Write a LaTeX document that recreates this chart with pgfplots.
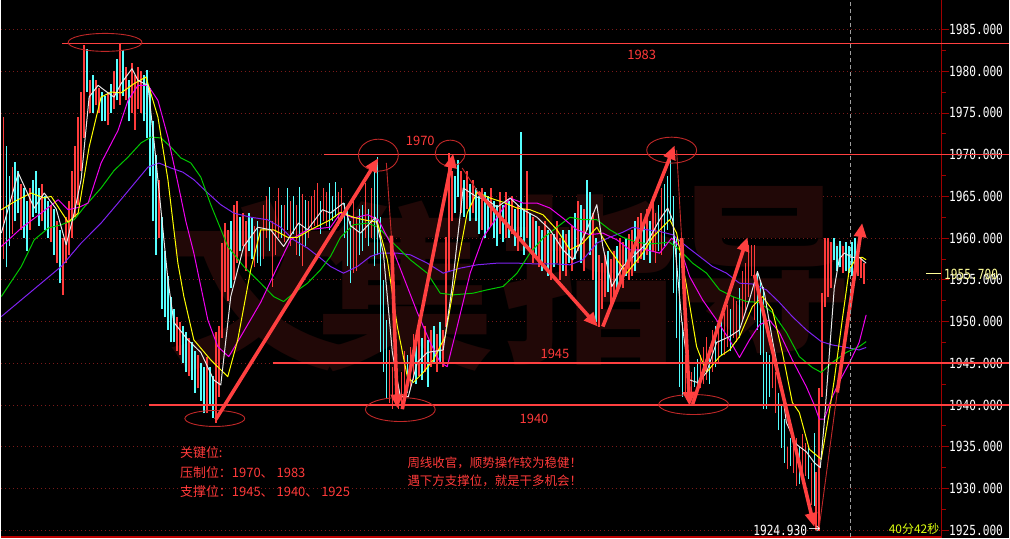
\documentclass[border=0pt]{standalone}
\usepackage{pgfplots}
\usepackage{pgfplotstable}
\pgfplotsset{compat=1.18}
\usetikzlibrary{arrows.meta}
\usepackage{fontspec}
\newfontfamily\cjk{Noto Sans CJK SC}
\newfontfamily\tickfam[FakeStretch=0.8]{DejaVu Sans Mono}
\newcommand\tickfont{\tickfam\fontsize{14}{14}\selectfont}

\definecolor{candlered}{HTML}{FF3B3B}
\definecolor{candlecyan}{HTML}{55FFFF}
\definecolor{mawhite}{HTML}{E8E8E8}
\definecolor{mayellow}{HTML}{FFFF00}
\definecolor{mamagenta}{HTML}{F000F0}
\definecolor{magreen}{HTML}{00C800}
\definecolor{mapurple}{HTML}{7F22F0}
\definecolor{linered}{HTML}{FF4040}
\definecolor{ellred}{HTML}{C02828}
\definecolor{gridred}{HTML}{7A1A1A}
\definecolor{axisred}{HTML}{A00000}
\definecolor{wm}{HTML}{210807}
\definecolor{txtred}{HTML}{FF3A3A}
\definecolor{timeyellow}{HTML}{DDFF10}
\definecolor{priceyellow}{HTML}{FFFF99}

\pgfplotstableread{
x lo hi
2 1957.5 1974.5
11 1960.5 1968.5
20 1961.0 1966.5
29 1961.0 1966.0
41 1962.0 1966.5
50 1959.5 1964.0
56 1957.0 1962.0
62 1953.2 1960.0
65 1957.0 1962.5
68 1958.0 1964.5
71 1960.0 1968.0
74 1962.5 1971.0
77 1964.0 1974.5
80 1968.0 1977.5
83 1972.0 1983.1
89 1975.0 1979.0
95 1976.0 1979.0
98 1975.0 1978.0
107 1973.5 1977.5
113 1975.5 1980.0
119 1976.0 1983.3
125 1976.5 1980.5
131 1975.0 1981.0
134 1973.0 1979.5
137 1975.5 1980.5
140 1975.0 1980.0
158 1960.0 1967.0
176 1946.5 1950.5
179 1946.0 1950.0
188 1943.5 1948.0
197 1942.0 1946.0
206 1939.0 1945.8
215 1937.9 1948.7
218 1941.0 1949.5
221 1948.0 1959.4
224 1953.5 1961.8
227 1952.5 1961.0
233 1955.0 1964.0
236 1957.0 1964.5
242 1959.0 1963.0
245 1956.0 1962.0
254 1956.5 1961.5
263 1957.5 1964.0
266 1960.0 1965.0
272 1954.2 1962.0
275 1958.0 1964.5
278 1960.0 1966.0
284 1959.5 1964.0
290 1959.0 1964.5
296 1958.0 1964.0
302 1956.6 1965.3
308 1960.0 1964.5
311 1961.0 1965.0
314 1961.5 1965.8
317 1961.5 1966.6
323 1962.0 1966.0
326 1961.5 1965.5
338 1961.5 1965.5
341 1962.0 1966.0
353 1955.8 1964.6
356 1956.0 1962.5
365 1960.0 1966.6
371 1960.0 1966.0
389 1940.3 1946.6
392 1939.5 1944.6
398 1939.5 1942.5
401 1939.8 1944.0
404 1941.0 1946.5
410 1942.0 1947.0
413 1943.0 1948.5
419 1943.5 1949.0
425 1944.0 1949.5
431 1944.5 1949.0
437 1944.0 1948.5
443 1944.5 1949.0
446 1949.4 1960.1
449 1956.0 1970.2
452 1962.0 1968.0
461 1963.0 1968.0
467 1963.5 1968.0
473 1963.0 1967.0
482 1961.0 1966.0
491 1961.5 1966.0
500 1960.5 1965.5
506 1960.0 1965.5
512 1960.5 1965.0
518 1958.5 1964.0
527 1960.0 1968.0
533 1957.0 1962.5
539 1956.5 1961.5
545 1957.0 1962.0
551 1955.0 1960.5
557 1957.0 1962.0
560 1955.0 1960.0
566 1955.5 1960.5
572 1956.0 1961.5
578 1958.5 1964.5
584 1956.0 1963.5
593 1955.0 1963.0
599 1949.4 1958.0
602 1951.5 1957.0
605 1953.0 1958.0
611 1952.0 1957.5
614 1953.0 1958.5
620 1955.0 1960.0
623 1954.0 1959.5
629 1955.0 1960.5
632 1955.5 1961.0
638 1957.0 1962.5
641 1957.5 1963.0
647 1958.0 1963.5
653 1958.5 1964.5
656 1957.0 1963.0
662 1958.0 1966.0
686 1941.5 1946.0
692 1940.7 1944.0
701 1942.0 1946.0
704 1942.5 1947.0
707 1943.0 1948.2
713 1944.0 1949.0
719 1945.0 1950.0
725 1946.0 1951.0
728 1947.0 1952.0
734 1948.0 1953.0
737 1947.5 1952.5
743 1950.0 1956.0
746 1951.0 1957.0
749 1953.0 1959.2
752 1955.4 1959.2
755 1950.2 1959.2
773 1942.0 1946.5
776 1939.0 1944.0
788 1932.3 1935.0
794 1931.9 1935.5
797 1930.3 1936.0
803 1931.0 1936.5
806 1931.5 1935.5
812 1928.0 1933.0
817 1925.0 1932.0
820 1924.93 1942.0
823 1941.0 1953.4
826 1951.8 1960.0
829 1953.0 1960.0
832 1954.0 1959.5
844 1955.8 1959.0
859 1955.5 1959.0
862 1955.2 1957.7
865 1954.5 1957.0
}\redtab

\pgfplotstableread{
x lo hi
5 1956.5 1971.0
8 1959.0 1967.5
14 1962.0 1969.1
17 1963.0 1968.0
23 1960.0 1966.0
26 1958.5 1964.5
32 1962.5 1967.0
35 1963.0 1968.0
38 1961.5 1966.0
44 1961.0 1965.0
47 1960.0 1964.5
53 1958.0 1963.5
59 1954.6 1961.0
86 1977.5 1982.7
92 1975.0 1979.5
101 1974.0 1977.5
104 1974.0 1977.0
110 1975.0 1978.5
116 1976.5 1981.5
122 1977.0 1982.5
128 1974.0 1979.0
143 1974.0 1979.5
146 1972.0 1980.1
149 1967.5 1978.0
152 1962.0 1974.0
155 1958.0 1970.0
161 1951.5 1962.5
164 1950.5 1958.5
167 1949.0 1955.5
170 1947.5 1953.0
173 1947.5 1951.5
182 1945.0 1949.5
185 1944.0 1948.7
191 1943.0 1947.5
194 1941.5 1946.5
200 1940.5 1945.0
203 1939.0 1944.5
209 1940.0 1944.5
212 1938.5 1943.5
230 1954.0 1962.0
239 1958.5 1962.5
248 1958.5 1963.0
251 1957.5 1962.5
257 1957.0 1962.0
260 1956.6 1961.0
269 1958.5 1966.1
281 1960.0 1964.0
287 1961.0 1966.0
293 1960.5 1965.0
299 1957.8 1966.1
305 1959.0 1964.6
320 1960.5 1964.5
329 1961.0 1966.6
332 1962.0 1965.0
335 1962.5 1966.7
344 1960.0 1964.2
347 1956.6 1963.5
350 1954.6 1962.0
359 1958.0 1963.5
362 1958.5 1964.0
368 1959.0 1963.5
374 1956.6 1968.0
377 1958.0 1969.7
380 1946.3 1962.5
383 1944.0 1955.0
386 1940.7 1950.2
395 1940.0 1944.0
407 1941.5 1946.0
416 1942.5 1947.5
422 1943.0 1948.0
428 1942.2 1947.8
434 1945.0 1949.5
440 1945.0 1950.0
455 1963.0 1967.5
458 1964.9 1969.3
464 1962.5 1967.0
470 1962.0 1966.5
476 1962.0 1966.0
479 1960.5 1965.0
485 1960.0 1965.5
488 1961.0 1965.0
494 1960.0 1964.5
497 1959.0 1964.0
503 1959.5 1964.0
509 1960.0 1964.5
515 1959.0 1963.5
521 1960.1 1972.7
524 1958.0 1963.5
530 1958.5 1963.0
536 1957.5 1962.0
542 1956.0 1961.0
548 1955.5 1961.0
554 1956.5 1960.5
563 1956.0 1961.0
569 1957.0 1961.0
575 1957.5 1963.0
581 1957.0 1964.0
587 1961.0 1967.0
590 1958.0 1965.5
596 1950.0 1960.0
608 1953.5 1958.5
617 1954.0 1959.0
626 1955.5 1960.0
635 1956.0 1962.0
644 1957.4 1962.2
650 1957.0 1962.0
659 1958.5 1964.0
665 1959.0 1966.5
668 1961.0 1967.5
671 1962.2 1970.2
674 1953.4 1965.0
677 1948.0 1960.0
680 1942.2 1958.2
683 1941.0 1950.0
689 1940.7 1945.0
695 1942.2 1944.6
698 1941.5 1945.5
710 1942.5 1947.0
716 1944.5 1949.5
722 1946.0 1950.5
731 1946.5 1951.5
740 1948.0 1954.0
758 1949.0 1956.0
761 1946.0 1955.0
764 1939.5 1954.2
767 1939.5 1946.3
770 1941.0 1946.0
779 1937.0 1941.5
782 1934.9 1940.0
785 1933.1 1938.3
791 1932.7 1936.1
800 1930.5 1935.0
809 1931.1 1935.0
815 1927.9 1936.7
835 1957.4 1960.0
838 1956.0 1959.0
841 1956.5 1959.6
847 1956.0 1959.5
850 1955.8 1959.0
853 1955.5 1959.5
856 1956.5 1960.0
}\cyantab

\begin{document}
\begin{tikzpicture}[x=1pt,y=1pt]
\fill[black] (0,0) rectangle (1010,539);
\begin{axis}[
  at={(0pt,1pt)}, anchor=south west,
  scale only axis, width=943pt, height=538pt,
  xmin=0, xmax=943, ymin=1924.17, ymax=1988.47,
  clip=false,
  axis x line*=bottom, axis y line*=right,
  xtick=\empty,
  ytick={1925,1930,...,1985},
  minor y tick num=1,
  tick align=outside,
  major tick length=7pt, minor tick length=4pt,
  y axis line style={draw=axisred, line width=1pt},
  x axis line style={draw=axisred!70!red, line width=1.4pt},
  ytick style={draw=axisred, line width=0.8pt},
  ymajorgrids,
  grid style={gridred, line width=0.8pt, dash pattern=on 1pt off 3pt},
  /pgf/number format/assume math mode=true,
  yticklabel={\pgfmathprintnumber[fixed,fixed zerofill,precision=3,1000 sep={}]{\tick}},
  yticklabel style={font=\tickfont, text=white, inner sep=0pt},
]
% watermark
\node[text=wm, font=\cjk\bfseries\fontsize{180}{180}\selectfont] at (axis cs:258,1954.2) {文};
\node[text=wm, font=\cjk\bfseries\fontsize{180}{180}\selectfont] at (axis cs:405,1954.2) {集};
\node[text=wm, font=\cjk\bfseries\fontsize{180}{180}\selectfont] at (axis cs:590,1955.0) {指};
\node[text=wm, font=\cjk\bfseries\fontsize{180}{180}\selectfont] at (axis cs:765,1956.2) {导};

% candles (high-low lines)
\addplot[draw=none, mark=none, forget plot,
  error bars/.cd, y dir=plus, y explicit, error mark=none,
  error bar style={draw=candlered, line width=1.6pt}]
  table[x=x, y=lo, y error plus expr=\thisrow{hi}-\thisrow{lo}] {\redtab};
\addplot[draw=none, mark=none, forget plot,
  error bars/.cd, y dir=plus, y explicit, error mark=none,
  error bar style={draw=candlecyan, line width=1.6pt}]
  table[x=x, y=lo, y error plus expr=\thisrow{hi}-\thisrow{lo}] {\cyantab};

% moving averages
\addplot[mapurple, line width=1pt, line join=round] coordinates {
(0,1950.6) (20,1952.6) (40,1954.6) (60,1956.6) (80,1959.4) (100,1961.8) (117,1964.2) (133,1966.5) (147,1968.5) (158,1969.0) (170,1968.4) (182,1967.9) (193,1967.0) (207,1965.4) (220,1964.0) (233,1963.0) (250,1962.5) (267,1962.2) (280,1961.3) (293,1959.8) (307,1958.8) (320,1957.6) (330,1956.6) (343,1955.8) (357,1956.6) (370,1957.8) (380,1958.2) (397,1958.2) (410,1958.0) (427,1957.0) (443,1955.8) (460,1956.4) (477,1956.8) (497,1957.0) (517,1957.0) (537,1956.9) (557,1956.9) (570,1956.8) (583,1957.4) (597,1959.4) (610,1960.1) (623,1960.7) (633,1961.3) (647,1961.0) (660,1960.8) (673,1960.4) (687,1959.0) (700,1957.8) (713,1956.6) (727,1955.8) (740,1954.6) (753,1954.5) (767,1953.8) (780,1952.3) (793,1950.6) (807,1949.0) (822,1947.6) (833,1947.2) (847,1946.9) (860,1946.6) (867,1946.9)};
\addplot[magreen, line width=1pt, line join=round] coordinates {
(0,1953.0) (20,1956.6) (33,1959.8) (47,1961.2) (60,1961.6) (73,1962.2) (83,1963.7) (100,1966.0) (113,1968.1) (127,1969.7) (140,1971.4) (150,1972.1) (160,1972.0) (170,1970.9) (180,1969.6) (190,1969.0) (200,1967.3) (210,1964.0) (227,1959.0) (243,1956.6) (260,1954.6) (273,1953.0) (283,1952.4) (293,1953.4) (307,1954.6) (320,1956.2) (330,1957.8) (340,1960.1) (353,1961.6) (367,1961.8) (378,1961.3) (393,1959.4) (410,1957.4) (427,1955.8) (440,1953.4) (453,1953.2) (473,1953.4) (487,1953.8) (503,1954.2) (517,1955.8) (530,1958.2) (543,1960.0) (557,1961.3) (570,1962.5) (583,1962.2) (597,1962.2) (610,1961.0) (623,1960.1) (637,1959.5) (650,1959.3) (660,1959.4) (670,1959.5) (680,1958.6) (693,1957.0) (707,1955.8) (720,1953.8) (733,1953.0) (747,1952.4) (760,1952.3) (773,1951.1) (787,1948.7) (800,1945.8) (813,1944.5) (822,1943.9) (833,1945.1) (847,1946.3) (860,1947.0) (867,1947.6)};
\addplot[mamagenta, line width=1pt, line join=round] coordinates {
(0,1959.0) (20,1961.2) (40,1963.0) (57,1964.6) (67,1963.4) (78,1963.7) (87,1964.2) (100,1969.0) (117,1972.9) (127,1976.5) (137,1978.3) (147,1978.3) (157,1976.5) (167,1972.1) (177,1966.6) (185,1962.0) (193,1958.2) (207,1950.2) (217,1947.0) (228,1945.8) (240,1948.2) (260,1952.3) (277,1956.6) (290,1959.8) (307,1961.0) (330,1961.3) (340,1963.0) (353,1962.4) (367,1962.8) (378,1962.2) (390,1959.4) (403,1955.4) (417,1951.1) (430,1947.5) (440,1945.1) (447,1944.6) (457,1949.4) (470,1955.8) (483,1960.1) (497,1962.5) (510,1964.8) (523,1964.2) (537,1964.2) (550,1963.6) (563,1962.4) (577,1961.0) (590,1960.4) (603,1960.6) (617,1959.8) (630,1958.6) (647,1958.6) (660,1958.2) (672,1960.0) (680,1959.0) (690,1955.4) (703,1952.6) (717,1950.2) (730,1947.8) (740,1945.7) (750,1947.8) (760,1949.6) (770,1950.2) (780,1948.7) (793,1945.4) (807,1942.2) (815,1940.0) (820,1938.3) (825,1938.3) (832,1940.7) (840,1942.8) (850,1945.0) (860,1947.5) (867,1950.8)};
\addplot[mayellow, line width=1pt, line join=round] coordinates {
(0,1963.4) (15,1964.5) (30,1965.4) (43,1964.8) (50,1965.0) (67,1961.9) (77,1963.0) (88,1970.9) (100,1976.9) (110,1977.5) (120,1977.4) (133,1978.5) (145,1979.3) (157,1974.5) (167,1967.0) (177,1957.0) (183,1953.0) (193,1947.8) (210,1945.4) (227,1943.4) (237,1947.8) (250,1956.2) (260,1961.0) (273,1961.0) (287,1960.1) (297,1960.1) (310,1961.0) (330,1962.2) (340,1963.1) (353,1962.5) (363,1962.2) (377,1961.9) (387,1957.4) (397,1949.4) (407,1943.4) (413,1942.7) (423,1943.9) (433,1945.4) (445,1948.2) (457,1956.6) (467,1963.0) (477,1965.5) (490,1964.8) (503,1964.3) (517,1963.6) (530,1963.4) (543,1962.8) (557,1961.0) (570,1958.6) (583,1959.4) (597,1961.3) (610,1958.6) (627,1955.8) (643,1958.2) (653,1960.1) (670,1962.2) (677,1960.6) (687,1954.2) (697,1947.0) (707,1943.9) (720,1945.8) (730,1946.6) (740,1948.2) (753,1951.8) (763,1953.0) (773,1951.4) (783,1946.3) (793,1940.3) (800,1939.1) (810,1934.7) (822,1933.5) (830,1939.1) (835,1943.0) (843,1950.2) (850,1956.2) (857,1957.6) (863,1957.7) (867,1957.4)};
\addplot[mawhite, line width=1pt, line join=round] coordinates {
(0,1960.6) (17,1967.8) (33,1963.6) (43,1965.4) (55,1963.5) (65,1959.2) (73,1963.0) (80,1967.0) (88,1976.9) (97,1978.3) (107,1977.4) (113,1976.9) (120,1978.5) (131,1980.3) (137,1978.9) (147,1978.3) (153,1971.7) (160,1963.4) (167,1955.0) (173,1949.9) (187,1947.8) (200,1946.3) (213,1943.0) (220,1942.4) (230,1953.0) (243,1959.0) (257,1961.3) (270,1961.0) (283,1959.0) (298,1961.8) (307,1961.0) (322,1963.4) (330,1963.0) (343,1964.2) (350,1961.5) (360,1960.6) (375,1962.5) (383,1958.2) (392,1946.3) (400,1941.0) (408,1941.0) (417,1945.1) (427,1946.3) (443,1946.6) (452,1954.2) (463,1966.0) (477,1964.9) (487,1964.6) (497,1963.7) (510,1964.8) (523,1963.4) (537,1962.5) (550,1961.0) (563,1958.6) (573,1957.4) (587,1961.0) (597,1964.0) (603,1959.0) (612,1954.2) (623,1956.6) (637,1958.2) (647,1959.4) (660,1962.2) (668,1963.6) (673,1962.2) (682,1950.2) (690,1943.0) (698,1942.7) (707,1943.9) (717,1947.5) (730,1948.2) (740,1949.0) (750,1952.6) (758,1956.0) (765,1953.4) (773,1947.8) (783,1941.5) (787,1937.9) (797,1935.3) (807,1934.4) (815,1933.1) (821,1932.5) (825,1937.9) (830,1946.0) (835,1954.0) (840,1957.5) (845,1958.2) (853,1957.7) (860,1957.7) (867,1957.0)};

% horizontal levels
\draw[linered, line width=1.2pt] (axis cs:61,1983.3) -- (axis cs:1010,1983.3);
\draw[linered, line width=1.2pt] (axis cs:323,1970.0) -- (axis cs:1010,1970.0);
\draw[linered, line width=2.4pt] (axis cs:272,1945.0) -- (axis cs:1010,1945.0);
\draw[linered, line width=2.4pt] (axis cs:148,1940.0) -- (axis cs:1010,1940.0);
\node[text=txtred, inner sep=0pt, font=\cjk\fontsize{13}{13}\selectfont] at (axis cs:642,1981.9) {1983};
\node[text=txtred, inner sep=0pt, font=\cjk\fontsize{13}{13}\selectfont] at (axis cs:420,1971.7) {1970};
\node[text=txtred, inner sep=0pt, font=\cjk\fontsize{13}{13}\selectfont] at (axis cs:555,1946.1) {1945};
\node[text=txtred, inner sep=0pt, font=\cjk\fontsize{13}{13}\selectfont] at (axis cs:534,1938.4) {1940};

% ellipses
\draw[ellred, line width=0.9pt] (axis cs:104,1983.45) ellipse [x radius=37pt, y radius=9pt];
\draw[ellred, line width=0.9pt] (axis cs:378,1969.94) ellipse [x radius=20pt, y radius=16pt];
\draw[ellred, line width=0.9pt] (axis cs:450,1970.18) ellipse [x radius=15pt, y radius=13pt];
\draw[ellred, line width=0.9pt] (axis cs:672,1970.54) ellipse [x radius=25pt, y radius=13pt];
\draw[ellred, line width=0.9pt] (axis cs:400,1939.46) ellipse [x radius=35pt, y radius=12pt];
\draw[ellred, line width=0.9pt] (axis cs:214,1938.39) ellipse [x radius=30pt, y radius=8pt];
\draw[ellred, line width=0.9pt] (axis cs:694,1940.06) ellipse [x radius=35pt, y radius=10pt];

% arrows
\tikzset{bigarrow/.style={linered, line width=3.6pt, -{Triangle[length=14pt,width=12pt]}},
         thinline/.style={ellred, line width=0.9pt}}
\draw[bigarrow] (axis cs:215,1938.27) -- (axis cs:378,1969.58);
\draw[thinline] (axis cs:386,1969.0) -- (axis cs:391,1960.3);
\draw[bigarrow] (axis cs:391,1960.3) -- (axis cs:397,1939.6);
\draw[bigarrow] (axis cs:402,1939.5) -- (axis cs:453,1970.1);
\draw[thinline] (axis cs:462,1968.4) -- (axis cs:478,1965.5);
\draw[bigarrow] (axis cs:478,1965.5) -- (axis cs:598,1949.4);
\draw[bigarrow] (axis cs:603,1949.4) -- (axis cs:675,1971.1);
\draw[thinline] (axis cs:677,1970.5) -- (axis cs:682,1960.0);
\draw[bigarrow] (axis cs:682,1960.0) -- (axis cs:690,1939.9);
\draw[bigarrow] (axis cs:693,1940.1) -- (axis cs:748,1960.1);
\draw[bigarrow] (axis cs:755,1955.6) -- (axis cs:815,1925.4);
\draw[thinline] (axis cs:820,1925.4) -- (axis cs:838,1941.5);
\draw[bigarrow] (axis cs:838,1941.5) -- (axis cs:863,1961.8);

% current-time line and price tag
\draw[gray!75, line width=0.8pt, dash pattern=on 4pt off 3pt] (axis cs:851,1924.17) -- (axis cs:851,1988.47);
\draw[priceyellow, line width=1pt] (axis cs:927,1955.7) -- (axis cs:942,1955.7);
\node[anchor=west, inner sep=0pt, text=priceyellow, font=\tickfont] at (axis cs:945,1955.7) {1955.700};
\node[anchor=east, inner sep=0pt, text=white, font=\tickfont] at (axis cs:808,1925.0) {1924.930};
\node[anchor=west, inner sep=0pt, text=white, font=\cjk\fontsize{12}{12}\selectfont] at (axis cs:809,1925.0) {→};
\node[inner sep=0pt, text=timeyellow, font=\cjk\fontsize{12}{12}\selectfont] at (axis cs:915,1925.1) {40分42秒};

% annotations
\node[anchor=west, inner sep=0pt, text=txtred, font=\cjk\fontsize{13}{13}\selectfont] at (axis cs:179,1934.3) {关键位:};
\node[anchor=west, inner sep=0pt, text=txtred, font=\cjk\fontsize{13}{13}\selectfont] at (axis cs:179,1931.9) {压制位：1970、 1983};
\node[anchor=west, inner sep=0pt, text=txtred, font=\cjk\fontsize{13}{13}\selectfont] at (axis cs:179,1929.65) {支撑位：1945、 1940、 1925};
\node[anchor=west, inner sep=0pt, text=txtred, font=\cjk\fontsize{12.5}{12.5}\selectfont] at (axis cs:407,1933.1) {周线收官，顺势操作较为稳健！};
\node[anchor=west, inner sep=0pt, text=txtred, font=\cjk\fontsize{12.5}{12.5}\selectfont] at (axis cs:407,1930.9) {遇下方支撑位，就是干多机会！};
\end{axis}
\end{tikzpicture}
\end{document}
